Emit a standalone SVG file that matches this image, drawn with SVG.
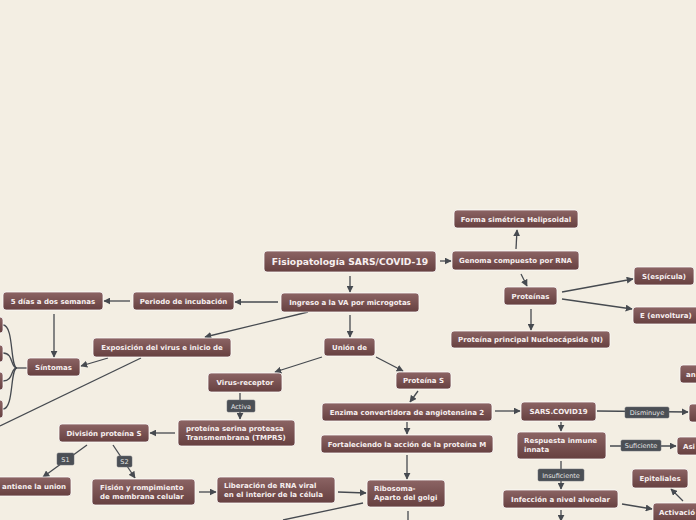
<svg xmlns="http://www.w3.org/2000/svg" width="696" height="520" viewBox="0 0 696 520">
<defs>
<linearGradient id="g" x1="0" y1="0" x2="0" y2="1">
<stop offset="0" stop-color="#8c6464"/>
<stop offset="1" stop-color="#664040"/>
</linearGradient>
<marker id="a" viewBox="0 0 10 10" refX="9" refY="5" markerWidth="7" markerHeight="7" markerUnits="userSpaceOnUse" orient="auto">
<path d="M0,0 L10,5 L0,10 z" fill="#464a50"/>
</marker>
<style>
.n rect{fill:url(#g);stroke:#ffffff;stroke-opacity:0.75;stroke-width:1}
.n text{font-family:"DejaVu Sans",Verdana,sans-serif;font-weight:bold;font-size:7px;fill:#f7efef}
.c{text-anchor:middle}
.e path,.e line{stroke:#464a50;stroke-width:1.3;fill:none}
.l rect{fill:#4b4f55;stroke:#6a6e74;stroke-width:0.5}
.l text{font-family:"DejaVu Sans",Verdana,sans-serif;font-size:6.5px;fill:#e4e4e4;text-anchor:middle}
</style>
</defs>
<rect width="696" height="520" fill="#f3eee3"/>

<g id="connectors" class="e">
<line x1="440" y1="261" x2="451" y2="261" marker-end="url(#a)"/>
<line x1="516" y1="249" x2="517" y2="230" marker-end="url(#a)"/>
<line x1="521" y1="274" x2="527" y2="286" marker-end="url(#a)"/>
<line x1="562" y1="292" x2="633" y2="279" marker-end="url(#a)"/>
<line x1="562" y1="299" x2="632" y2="309" marker-end="url(#a)"/>
<line x1="531" y1="309" x2="531" y2="330" marker-end="url(#a)"/>
<line x1="350" y1="276" x2="350" y2="292" marker-end="url(#a)"/>
<line x1="278" y1="302" x2="235" y2="302" marker-end="url(#a)"/>
<line x1="130" y1="301" x2="104" y2="301" marker-end="url(#a)"/>
<line x1="54" y1="314" x2="54" y2="357" marker-end="url(#a)"/>
<line x1="308" y1="312" x2="205" y2="337" marker-end="url(#a)"/>
<line x1="108" y1="358" x2="81" y2="366" marker-end="url(#a)"/>
<line x1="141" y1="358" x2="0" y2="426"/>
<path d="M27,368 L17,368"/>
<path d="M17,368 C10,368 14,325 3,325"/>
<path d="M17,368 C10,368 14,353 3,353"/>
<path d="M17,368 C10,368 14,381 3,381"/>
<path d="M17,368 C10,368 14,409 3,409"/>
<line x1="350" y1="315" x2="350" y2="337" marker-end="url(#a)"/>
<line x1="322" y1="357" x2="275" y2="372" marker-end="url(#a)"/>
<line x1="376" y1="357" x2="403" y2="371" marker-end="url(#a)"/>
<line x1="240" y1="393" x2="240" y2="419" marker-end="url(#a)"/>
<line x1="418" y1="391" x2="410" y2="402" marker-end="url(#a)"/>
<line x1="407" y1="422" x2="407" y2="434" marker-end="url(#a)"/>
<line x1="407" y1="455" x2="407" y2="479" marker-end="url(#a)"/>
<line x1="408" y1="511" x2="408" y2="520"/>
<line x1="363" y1="503" x2="283" y2="520"/>
<line x1="338" y1="492" x2="366" y2="493" marker-end="url(#a)"/>
<line x1="199" y1="492" x2="216" y2="492" marker-end="url(#a)"/>
<line x1="175" y1="433" x2="150" y2="433" marker-end="url(#a)"/>
<line x1="87" y1="445" x2="43" y2="477" marker-end="url(#a)"/>
<line x1="113" y1="445" x2="135" y2="478" marker-end="url(#a)"/>
<line x1="495" y1="411" x2="520" y2="411" marker-end="url(#a)"/>
<line x1="597" y1="411" x2="688" y2="412" marker-end="url(#a)"/>
<line x1="561" y1="422" x2="561" y2="431" marker-end="url(#a)"/>
<line x1="610" y1="446" x2="676" y2="446" marker-end="url(#a)"/>
<line x1="561" y1="461" x2="561" y2="489" marker-end="url(#a)"/>
<line x1="622" y1="504" x2="652" y2="509" marker-end="url(#a)"/>
<line x1="683" y1="501" x2="671" y2="489" marker-end="url(#a)"/>
<line x1="561" y1="510" x2="561" y2="521" marker-end="url(#a)"/>
</g>

<g id="edge-labels" class="l">
<g id="lbl-activa"><rect x="227" y="400" width="28" height="12" rx="1.5"/><text x="241" y="408.5">Activa</text></g>
<g id="lbl-s1"><rect x="57" y="453" width="17" height="12" rx="1.5"/><text x="65.5" y="461.5">S1</text></g>
<g id="lbl-s2"><rect x="117" y="456" width="15" height="11" rx="1.5"/><text x="124.5" y="464">S2</text></g>
<g id="lbl-disminuye"><rect x="625" y="407" width="44" height="11" rx="1.5"/><text x="647" y="415">Disminuye</text></g>
<g id="lbl-suficiente"><rect x="621" y="440" width="40" height="11" rx="1.5"/><text x="641" y="448">Suficiente</text></g>
<g id="lbl-insuficiente"><rect x="538" y="469" width="46" height="12" rx="1.5"/><text x="561" y="477.5">Insuficiente</text></g>
</g>

<g id="n-main" class="n"><rect x="264" y="251" width="172" height="21" rx="3"/><text class="c" x="350" y="265" style="font-size:9.2px">Fisiopatología SARS/COVID-19</text></g>
<g id="n-genoma" class="n"><rect x="452" y="251" width="127" height="19" rx="3"/><text class="c" x="515.5" y="263">Genoma compuesto por RNA</text></g>
<g id="n-forma" class="n"><rect x="454" y="210" width="124" height="18" rx="3"/><text class="c" x="516" y="221.5">Forma simétrica Helipsoidal</text></g>
<g id="n-proteinas" class="n"><rect x="504" y="287" width="53" height="18" rx="3"/><text class="c" x="530.5" y="298.5">Proteínas</text></g>
<g id="n-s" class="n"><rect x="634" y="267" width="60" height="18" rx="3"/><text class="c" x="664" y="278.5">S(espícula)</text></g>
<g id="n-e" class="n"><rect x="633" y="307" width="75" height="17" rx="3"/><text x="640" y="318">E (envoltura)</text></g>
<g id="n-n" class="n"><rect x="451" y="331" width="159" height="17" rx="3"/><text class="c" x="530.5" y="342">Proteína principal Nucleocápside (N)</text></g>
<g id="n-ingreso" class="n"><rect x="281" y="293" width="138" height="19" rx="3"/><text class="c" x="350" y="305">Ingreso a la VA por microgotas</text></g>
<g id="n-periodo" class="n"><rect x="133" y="292" width="101" height="18" rx="3"/><text class="c" x="183.5" y="303.5">Periodo de incubación</text></g>
<g id="n-5dias" class="n"><rect x="3" y="292" width="100" height="18" rx="3"/><text class="c" x="53" y="303.5">5 días a dos semanas</text></g>
<g id="n-exposicion" class="n"><rect x="93" y="338" width="138" height="19" rx="3"/><text class="c" x="162" y="350">Exposición del virus e inicio de</text></g>
<g id="n-sintomas" class="n"><rect x="27" y="358" width="53" height="18" rx="3"/><text class="c" x="53.5" y="369.5">Síntomas</text></g>
<g id="n-left1" class="n"><rect x="-20" y="317" width="23" height="16" rx="3"/></g>
<g id="n-left2" class="n"><rect x="-20" y="345" width="23" height="17" rx="3"/></g>
<g id="n-left3" class="n"><rect x="-20" y="372" width="23" height="18" rx="3"/></g>
<g id="n-left4" class="n"><rect x="-20" y="400" width="23" height="18" rx="3"/></g>
<g id="n-union" class="n"><rect x="324" y="338" width="51" height="18" rx="3"/><text class="c" x="349.5" y="349.5">Unión de</text></g>
<g id="n-virus" class="n"><rect x="208" y="373" width="74" height="19" rx="3"/><text class="c" x="245" y="385">Virus-receptor</text></g>
<g id="n-proteinaS" class="n"><rect x="396" y="372" width="55" height="17" rx="3"/><text class="c" x="423.5" y="383">Proteína S</text></g>
<g id="n-enzima" class="n"><rect x="322" y="403" width="170" height="18" rx="3"/><text class="c" x="407" y="414.5">Enzima convertidora de angiotensina 2</text></g>
<g id="n-fortaleciendo" class="n"><rect x="321" y="435" width="172" height="18" rx="3"/><text class="c" x="407" y="446.5">Fortaleciendo la acción de la proteína M</text></g>
<g id="n-tmprs" class="n"><rect x="178" y="420" width="117" height="26" rx="3"/><text x="186" y="431">proteína serina proteasa</text><text x="186" y="440">Transmembrana (TMPRS)</text></g>
<g id="n-division" class="n"><rect x="59" y="424" width="90" height="18" rx="3"/><text class="c" x="104" y="435.5">División proteína S</text></g>
<g id="n-mantiene" class="n"><rect x="-30" y="477" width="101" height="19" rx="3"/><text x="2" y="489">antiene la union</text></g>
<g id="n-fision" class="n"><rect x="92" y="479" width="103" height="26" rx="3"/><text x="100" y="490">Fisión y rompimiento</text><text x="100" y="499">de membrana celular</text></g>
<g id="n-liberacion" class="n"><rect x="217" y="477" width="118" height="26" rx="3"/><text x="224" y="488">Liberación de RNA viral</text><text x="224" y="497">en el interior de la célula</text></g>
<g id="n-ribosoma" class="n"><rect x="367" y="480" width="78" height="27" rx="3"/><text x="374" y="491">Ribosoma-</text><text x="374" y="500">Aparto del golgi</text></g>
<g id="n-sars" class="n"><rect x="521" y="402" width="75" height="19" rx="3"/><text class="c" x="558.5" y="414">SARS.COVID19</text></g>
<g id="n-respuesta" class="n"><rect x="517" y="432" width="89" height="27" rx="3"/><text x="524" y="443">Respuesta inmune</text><text x="524" y="452">innata</text></g>
<g id="n-infeccion" class="n"><rect x="503" y="490" width="115" height="18" rx="3"/><text class="c" x="560.5" y="501.5">Infección a nivel alveolar</text></g>
<g id="n-epiteliales" class="n"><rect x="632" y="469" width="56" height="19" rx="3"/><text class="c" x="660" y="481">Epiteliales</text></g>
<g id="n-activacion" class="n"><rect x="653" y="503" width="60" height="20" rx="3"/><text x="659" y="515">Activació</text></g>
<g id="n-asi" class="n"><rect x="677" y="437" width="40" height="18" rx="3"/><text x="683" y="448.5">Asi</text></g>
<g id="n-disminuye-target" class="n"><rect x="689" y="404" width="30" height="18" rx="3"/></g>
<g id="n-an" class="n"><rect x="680" y="365" width="40" height="18" rx="3"/><text x="686" y="376.5">an</text></g>
</svg>
